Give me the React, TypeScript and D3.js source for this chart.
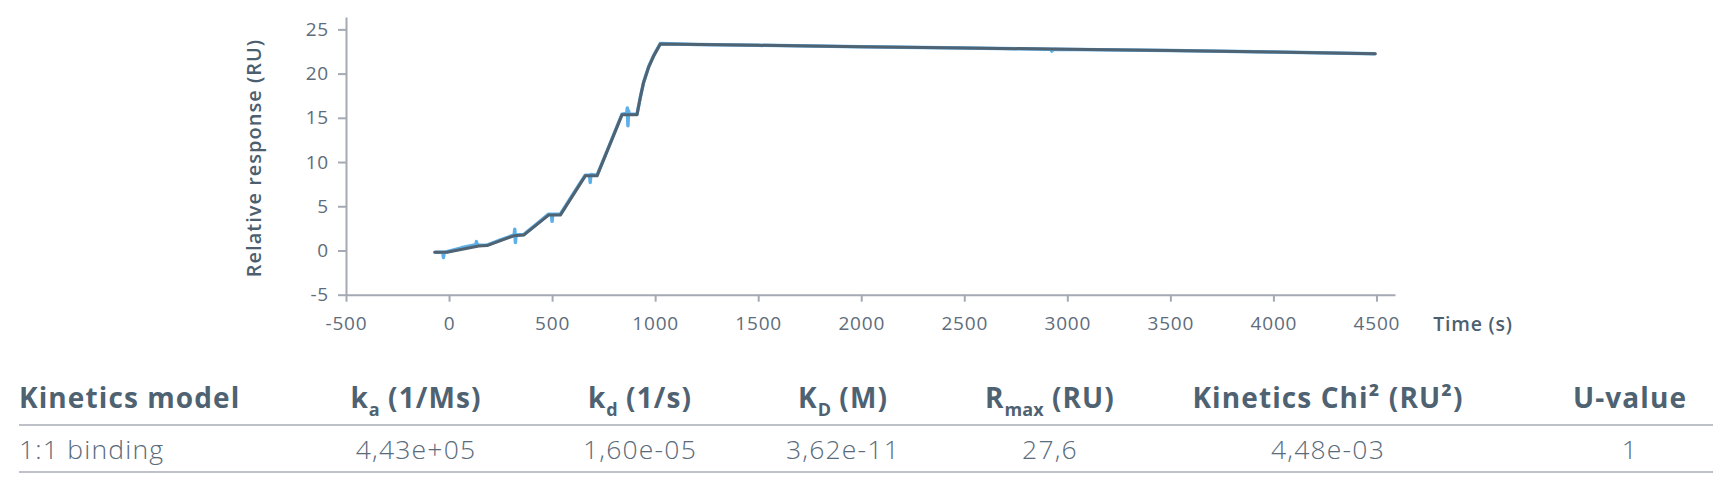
import React, { useEffect, useRef } from "react";
import * as d3 from "d3";

// fitted 1:1 model curve
const fitTime = [-70, -10, 144, 184, 314, 362, 483, 540, 661, 718, 839, 912, 928, 944, 968, 993, 1025, 1500, 2000, 2500, 3000, 3500, 4000, 4495];
const fitValue = [-0.2, -0.2, 0.5, 0.55, 1.66, 1.74, 4.0, 4.0, 8.44, 8.44, 15.34, 15.34, 17.3, 19.0, 20.7, 22.0, 23.35, 23.2, 23.05, 22.9, 22.75, 22.6, 22.45, 22.25];

// measured sensorgram
const dataTime = [-70, -30, -27, -24, -10, 60, 130, 133, 136, 150, 184, 250, 316, 319, 322, 325, 362, 420, 483, 497, 500, 503, 540, 600, 661, 682, 685, 688, 718, 780, 839, 862, 865, 868, 871, 874, 912, 928, 944, 968, 993, 1025, 1200, 1500, 2000, 2500, 2920, 2925, 2930, 3500, 4000, 4495];
const dataValue = [-0.2, -0.2, -0.8, -0.2, -0.15, 0.3, 0.65, 1.0, 0.65, 0.6, 0.6, 1.2, 1.75, 2.4, 0.9, 1.75, 1.8, 2.9, 4.1, 4.1, 3.3, 4.1, 4.1, 6.3, 8.5, 8.5, 7.7, 8.6, 8.5, 12.0, 15.4, 15.5, 16.1, 14.1, 15.8, 15.4, 15.4, 17.3, 19.0, 20.75, 22.05, 23.4, 23.3, 23.2, 23.05, 22.9, 22.75, 22.55, 22.75, 22.6, 22.45, 22.25];

const xTicks = [-500, 0, 500, 1000, 1500, 2000, 2500, 3000, 3500, 4000, 4500];
const yTicks = [-5, 0, 5, 10, 15, 20, 25];

// results table
const headers = [
  { main: "Kinetics model", sub: "", rest: "" },
  { main: "k", sub: "a", rest: " (1/Ms)" },
  { main: "k", sub: "d", rest: " (1/s)" },
  { main: "K", sub: "D", rest: " (M)" },
  { main: "R", sub: "max", rest: " (RU)" },
  { main: "Kinetics Chi² (RU²)", sub: "", rest: "" },
  { main: "U-value", sub: "", rest: "" },
];
const rowValues = ["1:1 binding", "4,43e+05", "1,60e-05", "3,62e-11", "27,6", "4,48e-03", "1"];

const W = 1733;
const H = 488;
const FONT = "'Open Sans', 'DejaVu Sans', sans-serif";

const App = () => {
  const svgRef = useRef(null);

  useEffect(() => {
    const svg = d3.select(svgRef.current);
    svg.selectAll("*").remove();

    const x = d3.scaleLinear().domain([-500, 4590]).range([346, 1395]);
    const y = d3.scaleLinear().domain([-5, 26.4]).range([294.7, 17]);

    const axisColor = "#a4a9b3";
    const tickText = "#5e6c7b";
    const titleColor = "#4c5f6f";

    const xAxis = svg
      .append("g")
      .attr("transform", `translate(0,${y(-5)})`)
      .call(d3.axisBottom(x).tickValues(xTicks).tickSize(7).tickSizeOuter(0).tickPadding(15).tickFormat((d) => String(d)));
    const yAxis = svg
      .append("g")
      .attr("transform", `translate(${x(-500)},0)`)
      .call(d3.axisLeft(y).tickValues(yTicks).tickSize(8).tickSizeOuter(0).tickPadding(9).tickFormat((d) => String(d)));

    [xAxis, yAxis].forEach((g) => {
      g.select(".domain").attr("stroke", axisColor).attr("stroke-width", 2);
      g.selectAll(".tick line").attr("stroke", axisColor).attr("stroke-width", 2);
      g.selectAll(".tick text")
        .attr("fill", tickText)
        .style("font-family", FONT)
        .style("font-size", "19px")
        .style("letter-spacing", "0.8px");
    });

    svg
      .append("text")
      .attr("x", 1473)
      .attr("y", 331)
      .attr("text-anchor", "middle")
      .attr("fill", titleColor)
      .style("font-family", FONT)
      .style("font-size", "19.5px")
      .style("letter-spacing", "0.8px")
      .style("font-weight", 600)
      .text("Time (s)");

    svg
      .append("text")
      .attr("transform", "translate(261,158) rotate(-90)")
      .attr("text-anchor", "middle")
      .attr("fill", titleColor)
      .style("font-family", FONT)
      .style("font-size", "20px")
      .style("letter-spacing", "1px")
      .style("font-weight", 600)
      .text("Relative response (RU)");

    const dataPts = dataTime.map((t, i) => [x(t), y(dataValue[i])] as [number, number]);
    const fitPts = fitTime.map((t, i) => [x(t), y(fitValue[i])] as [number, number]);
    const path = d3.line().curve(d3.curveLinear);

    svg
      .append("path")
      .attr("d", path(dataPts))
      .attr("fill", "none")
      .attr("stroke", "#5eb0e8")
      .attr("stroke-width", 3.5)
      .attr("stroke-linejoin", "round");

    svg
      .append("path")
      .attr("d", path(fitPts))
      .attr("fill", "none")
      .attr("stroke", "#4f6373")
      .attr("stroke-width", 3)
      .attr("stroke-linejoin", "round")
      .attr("stroke-linecap", "round");

    // table
    const colX = [19, 416, 640, 843, 1050, 1328, 1630];
    const headColor = "#4f6272";
    const rowColor = "#5a6b7b";

    headers.forEach((h, i) => {
      const t = svg
        .append("text")
        .attr("x", colX[i])
        .attr("y", 408)
        .attr("text-anchor", i === 0 ? "start" : "middle")
        .attr("fill", headColor)
        .style("font-family", FONT)
        .style("font-size", "28px")
        .style("letter-spacing", "1.1px")
        .style("font-weight", 700);
      t.append("tspan").text(h.main);
      if (h.sub) {
        t.append("tspan").attr("dy", 8).style("font-size", "18px").style("letter-spacing", "0px").text(h.sub);
        t.append("tspan").attr("dy", -8).text(h.rest);
      }
    });

    rowValues.forEach((v, i) => {
      svg
        .append("text")
        .attr("x", colX[i])
        .attr("y", 459)
        .attr("text-anchor", i === 0 ? "start" : "middle")
        .attr("fill", rowColor)
        .style("font-family", FONT)
        .style("font-size", "26.5px")
        .style("letter-spacing", "1.2px")
        .style("font-weight", 300)
        .text(v);
    });

    [425, 472].forEach((ly) => {
      svg
        .append("line")
        .attr("x1", 19)
        .attr("x2", 1713)
        .attr("y1", ly)
        .attr("y2", ly)
        .attr("stroke", "#a9adb5")
        .attr("stroke-width", 1.5);
    });
  }, []);

  return (
    <svg
      ref={svgRef}
      width={W}
      height={H}
      style={{ position: "absolute", left: 0, top: 0, background: "#fff" }}
    ></svg>
  );
};

export default App;
